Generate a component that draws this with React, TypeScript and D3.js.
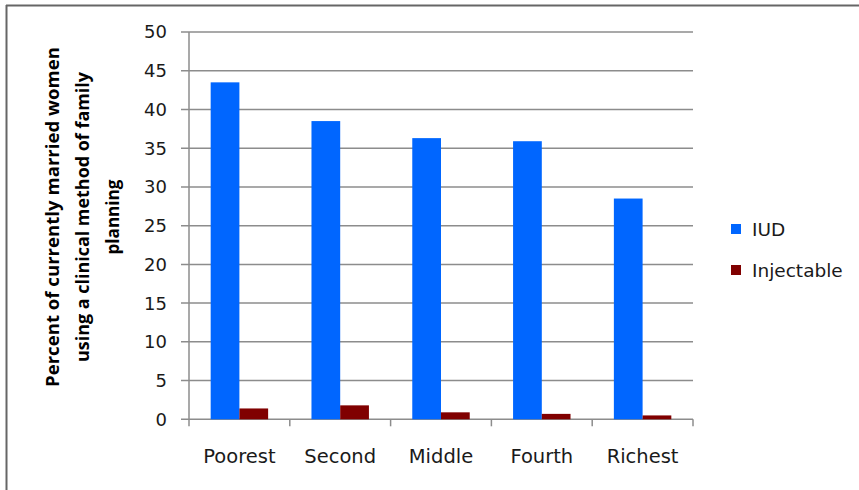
import React from "react";
import * as d3 from "d3";

const categories = ["Poorest", "Second", "Middle", "Fourth", "Richest"];
const seriesNames = ["IUD", "Injectable"];
const iudValues = [43.5, 38.5, 36.3, 35.9, 28.5];
const injectableValues = [1.4, 1.8, 0.9, 0.7, 0.5];
const yTicks = [0, 5, 10, 15, 20, 25, 30, 35, 40, 45, 50];
const titleLines = [
  "Percent of currently married women",
  "using a clinical  method of family",
  "planning",
];
const titleLengths = [340, 290, 75];

const colors = ["#0066FF", "#800000"];
const font = "'DejaVu Sans', Verdana, sans-serif";

export default function App() {
  const W = 859, H = 490;
  const left = 189, right = 693, top = 32, bottom = 419.3;
  const x = d3.scaleBand<string>().domain(categories).range([left, right]).paddingInner(0).paddingOuter(0);
  const y = d3.scaleLinear().domain([0, 50]).range([bottom, top]);
  const series = [iudValues, injectableValues];
  const inner = x.bandwidth() * 0.57;
  const off = (x.bandwidth() - inner) / 2;
  const bw = inner / 2;

  return (
    <svg width={W} height={H} style={{ position: "absolute", left: 0, top: 0 }}>
      <rect x={0} y={0} width={W} height={H} fill="#fff" />
      <line x1={6} y1={5.5} x2={859} y2={5.5} stroke="#666" strokeWidth={2} />
      <line x1={6.5} y1={5} x2={6.5} y2={490} stroke="#666" strokeWidth={2} />
      {yTicks.map((t) => (
        <g key={t}>
          <line x1={181} x2={right} y1={y(t)} y2={y(t)} stroke="#8c8c8c" strokeWidth={1.5} />
          <text x={167} y={y(t)} dy="0.36em" textAnchor="end" fontFamily={font} fontSize={18} fill="#1a1a1a">{t}</text>
        </g>
      ))}
      <line x1={left} x2={left} y1={top} y2={bottom + 7} stroke="#8c8c8c" strokeWidth={1.5} />
      {categories.map((c, i) => (
        <line key={"t" + i} x1={x(c)! + x.bandwidth()} x2={x(c)! + x.bandwidth()} y1={bottom} y2={bottom + 7} stroke="#8c8c8c" strokeWidth={1.5} />
      ))}
      {series.map((vals, s) =>
        categories.map((c, i) => (
          <rect key={s + "-" + i}
            x={x(c)! + off + s * bw} y={y(vals[i])}
            width={bw} height={bottom - y(vals[i])}
            fill={colors[s]} />
        ))
      )}
      {categories.map((c) => (
        <text key={c} x={x(c)! + x.bandwidth() / 2} y={456} dy="0.35em" textAnchor="middle" fontFamily={font} fontSize={19.5} fill="#1a1a1a">{c}</text>
      ))}
      {titleLines.map((l, i) => (
        <text key={i} transform={`translate(${53 + i * 30},217) rotate(-90)`} textAnchor="middle" dy="0.35em"
          fontFamily="'Open Sans', sans-serif" fontWeight="bold" fontSize={17} fill="#000"
          textLength={titleLengths[i]} lengthAdjust="spacingAndGlyphs">{l}</text>
      ))}
      {seriesNames.map((n, i) => (
        <g key={n}>
          <rect x={731} y={224 + i * 41} width={10} height={10} fill={colors[i]} />
          <text x={752} y={229 + i * 41} dy="0.36em" fontFamily={font} fontSize={18.5} fill="#1a1a1a">{n}</text>
        </g>
      ))}
    </svg>
  );
}
